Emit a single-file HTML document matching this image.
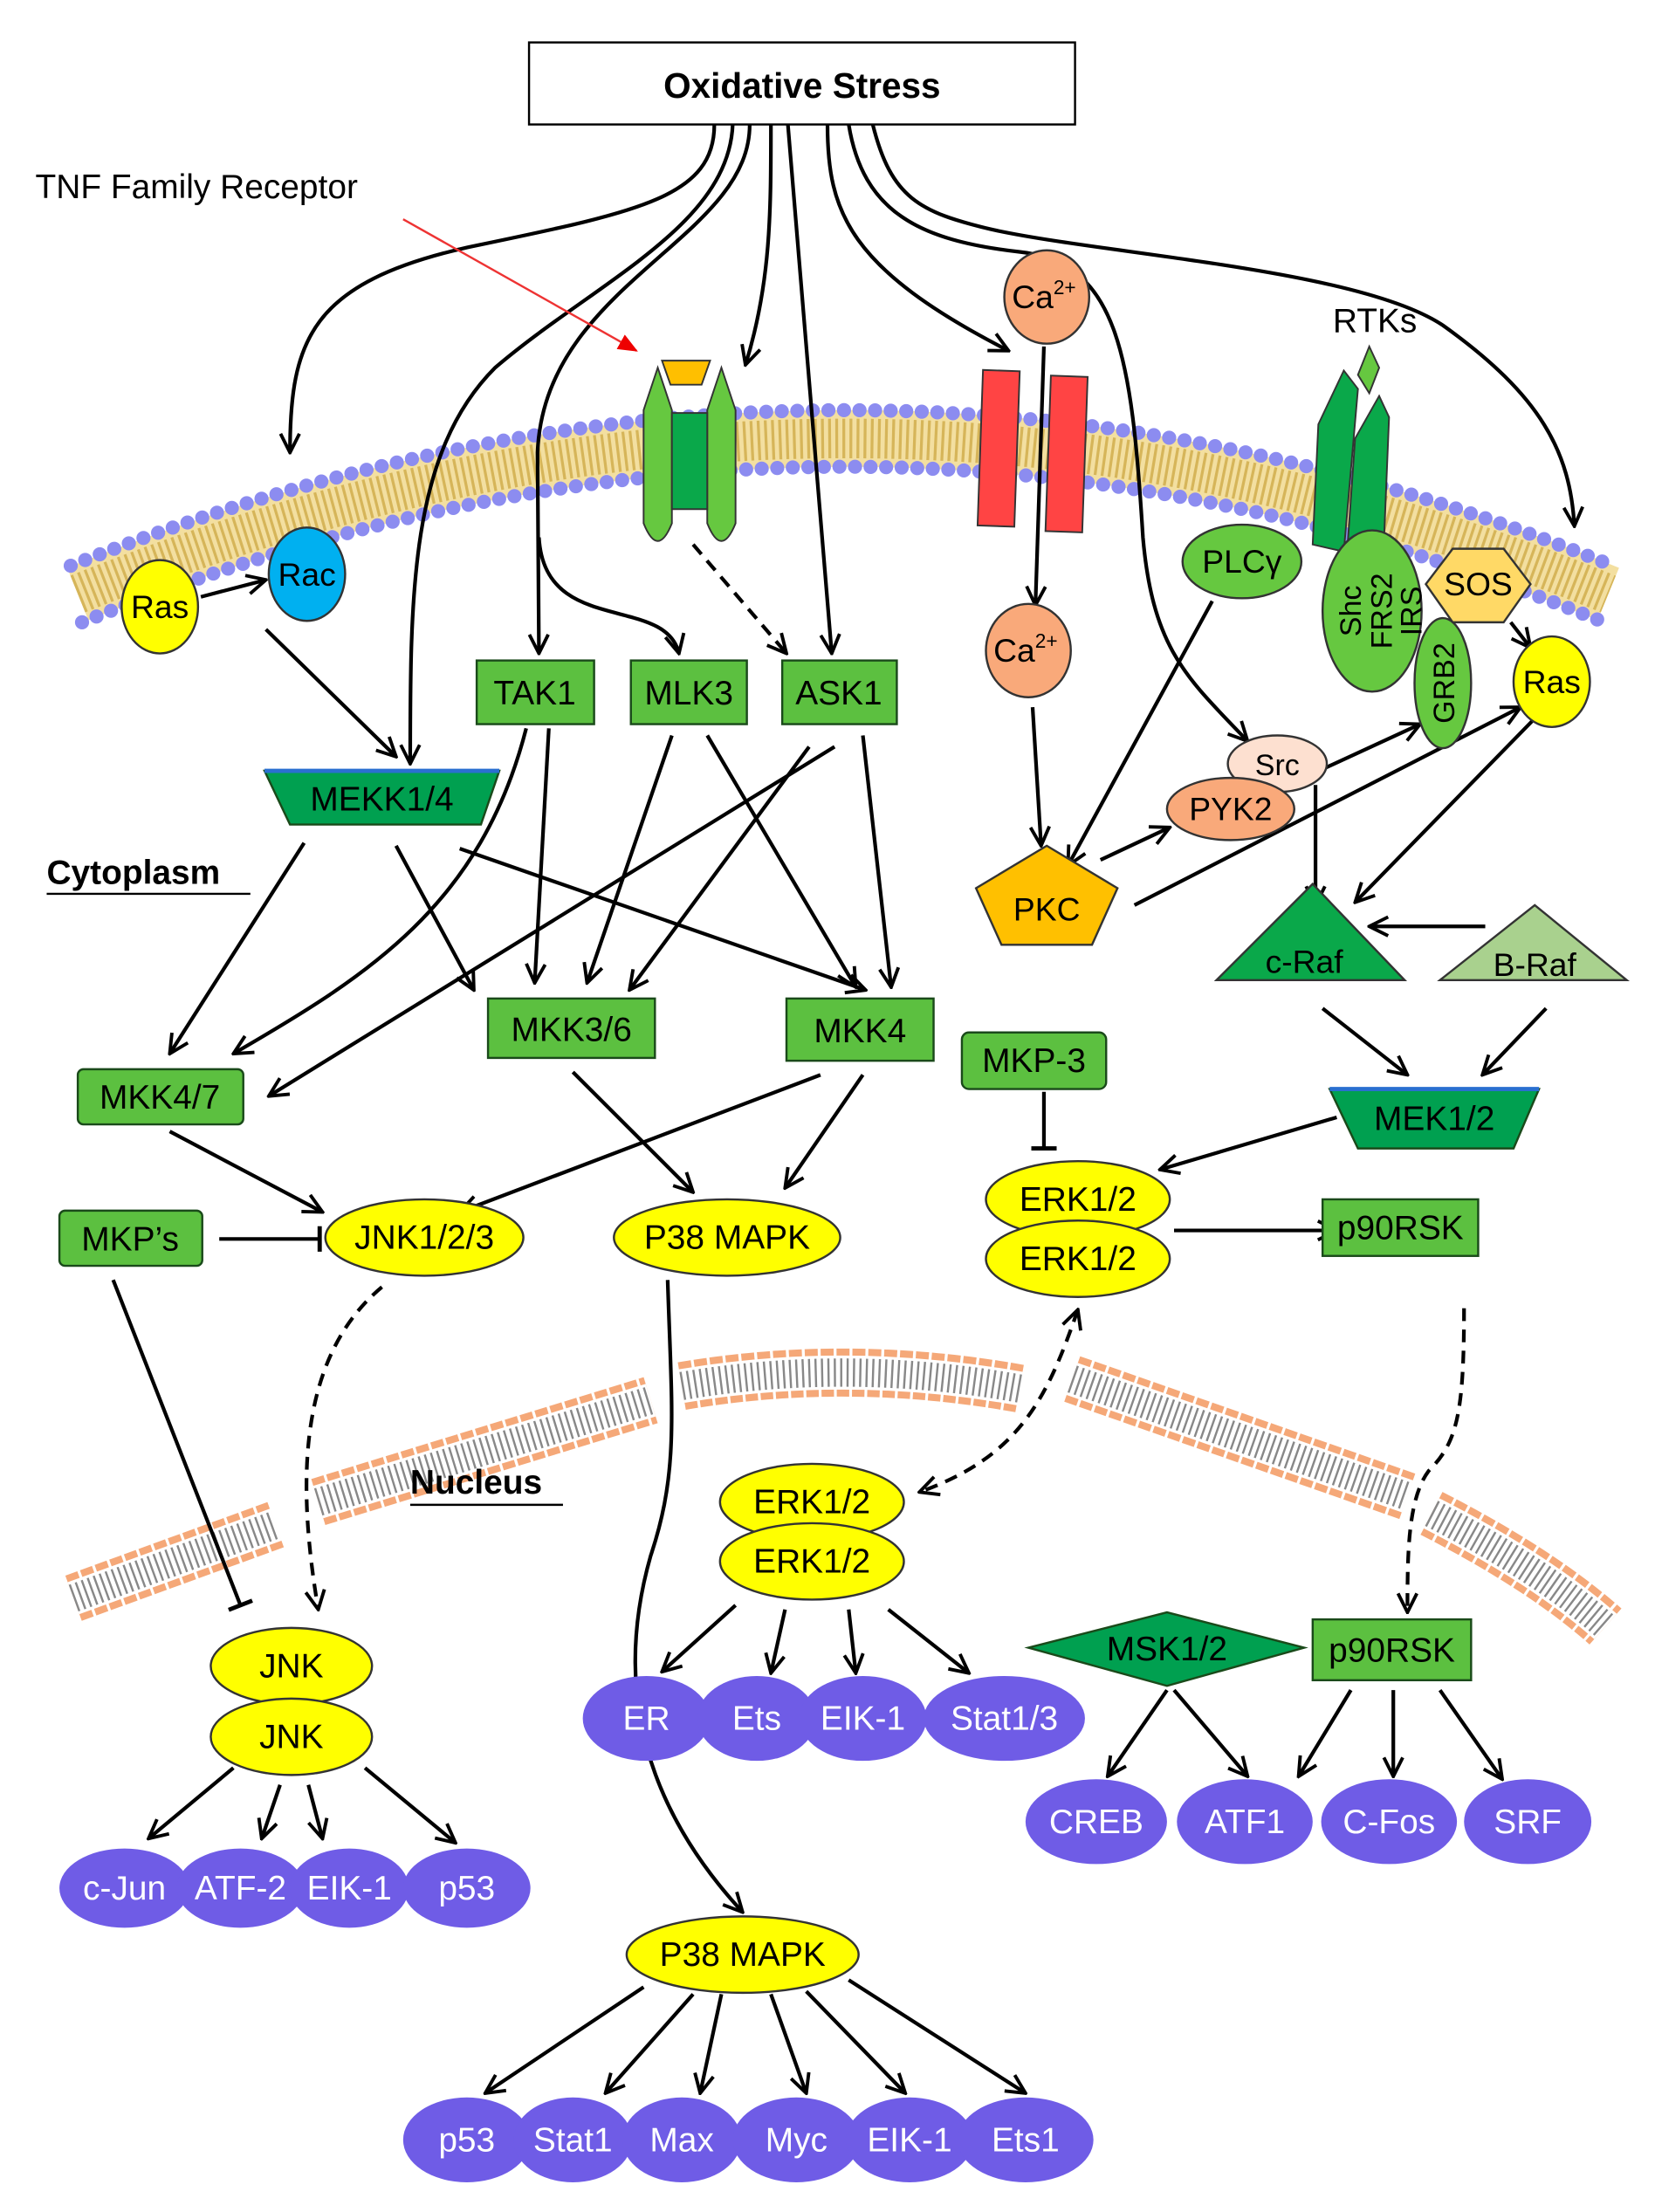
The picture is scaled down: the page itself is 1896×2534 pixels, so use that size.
<!DOCTYPE html>
<html><head><meta charset="utf-8"><style>
html,body{margin:0;padding:0;background:#fff}
svg{display:block}
text{font-family:"Liberation Sans",sans-serif;}
</style></head><body>
<svg width="1896" height="2534" viewBox="0 0 1170 1564" preserveAspectRatio="none" xmlns="http://www.w3.org/2000/svg">
<defs>
<marker id="a" viewBox="0 0 12 12" refX="11" refY="6" markerWidth="16" markerHeight="16" markerUnits="userSpaceOnUse" orient="auto-start-reverse">
<path d="M1,1 L11,6 L1,11" fill="none" stroke="#000" stroke-width="1.8"/></marker>
<marker id="r" viewBox="0 0 12 12" refX="11" refY="6" markerWidth="14" markerHeight="14" markerUnits="userSpaceOnUse" orient="auto">
<path d="M0,1 L12,6 L0,11z" fill="#e00"/></marker>
<marker id="t" viewBox="0 0 12 12" refX="6" refY="6" markerWidth="18" markerHeight="18" markerUnits="userSpaceOnUse" orient="auto">
<path d="M6,0 L6,12" stroke="#000" stroke-width="2"/></marker>
</defs>

<path d="M55,420 Q600,200 1137,420" fill="none" stroke="#f3dfa0" stroke-width="40"/>
<path d="M55,420 Q600,200 1137,420" fill="none" stroke="#c9a33a" stroke-width="28" stroke-dasharray="2 3" opacity="0.7"/>
<path d="M50,400 Q600,180 1140,400" fill="none" stroke="#8c8cf0" stroke-width="10" stroke-dasharray="0 11" stroke-linecap="round"/>
<path d="M58,440 Q600,220 1134,440" fill="none" stroke="#8c8cf0" stroke-width="10" stroke-dasharray="0 11" stroke-linecap="round"/>

<g fill="none" stroke-linecap="butt">
<g stroke="#f5a878" stroke-width="34" stroke-dasharray="9 2">
<path d="M52,1130 L195,1078"/><path d="M225,1062 L460,990"/><path d="M482,980 Q600,960 722,982"/><path d="M758,975 L995,1058"/><path d="M1012,1070 Q1090,1110 1135,1150"/>
</g>
<g stroke="#fff" stroke-width="24">
<path d="M52,1130 L195,1078"/><path d="M225,1062 L460,990"/><path d="M482,980 Q600,960 722,982"/><path d="M758,975 L995,1058"/><path d="M1012,1070 Q1090,1110 1135,1150"/>
</g>
<g stroke="#888" stroke-width="20" stroke-dasharray="1.5 3">
<path d="M52,1130 L195,1078"/><path d="M225,1062 L460,990"/><path d="M482,980 Q600,960 722,982"/><path d="M758,975 L995,1058"/><path d="M1012,1070 Q1090,1110 1135,1150"/>
</g>
</g>

<g fill="none" stroke="#000" stroke-width="2.6">
<path d="M505,88 C505,140 450,150 330,175 C220,200 205,240 205,320" marker-end="url(#a)"/>
<path d="M518,88 C515,160 420,200 350,260 C290,320 290,420 290,540" marker-end="url(#a)"/>
<path d="M530,88 C530,170 385,200 380,320 L381,462" marker-end="url(#a)"/>
<path d="M381,380 C385,450 470,420 480,462" marker-end="url(#a)"/>
<path d="M545,88 C545,150 545,200 527,258" marker-end="url(#a)"/>
<path d="M557,88 L588,462" marker-end="url(#a)"/>
<path d="M585,88 C585,150 600,190 713,248" marker-end="url(#a)"/>
<path d="M600,88 C610,150 650,170 720,178 C790,185 800,250 808,380 C815,460 840,480 882,524" marker-end="url(#a)"/>
<path d="M617,88 C630,140 650,150 700,162 C780,180 960,190 1020,230 C1090,280 1110,320 1113,372" marker-end="url(#a)"/>
<path d="M142,422 L188,410" marker-end="url(#a)"/>
<path d="M188,445 L280,535" marker-end="url(#a)"/>
<path d="M490,385 L556,462" stroke-dasharray="9 6" marker-end="url(#a)"/>
<path d="M738,245 L732,428" marker-end="url(#a)"/>
<path d="M730,500 L736,598" marker-end="url(#a)"/>
<path d="M857,425 L755,612" marker-end="url(#a)"/>
<path d="M778,608 L827,585" marker-end="url(#a)"/>
<path d="M802,640 L1075,500" marker-end="url(#a)"/>
<path d="M900,560 L1004,512" marker-end="url(#a)"/>
<path d="M930,555 L930,640" marker-end="url(#a)"/>
<path d="M1083,510 L958,638" marker-end="url(#a)"/>
<path d="M1068,440 L1082,458" marker-end="url(#a)"/>
<path d="M1050,655 L968,655" marker-end="url(#a)"/>
<path d="M935,713 L995,760" marker-end="url(#a)"/>
<path d="M1093,713 L1048,760" marker-end="url(#a)"/>
<path d="M945,790 L820,827" marker-end="url(#a)"/>
<path d="M738,772 L738,812" marker-end="url(#t)"/>
<path d="M830,870 L945,870" marker-end="url(#a)"/>
<path d="M1035,925 C1035,1000 1030,1020 1010,1040 C995,1060 995,1100 995,1140" stroke-dasharray="9 6" marker-end="url(#a)"/>
<path d="M762,926 C740,990 720,1030 650,1055" stroke-dasharray="9 6" marker-start="url(#a)" marker-end="url(#a)"/>
<path d="M270,910 C210,960 210,1050 225,1138" stroke-dasharray="9 6" marker-end="url(#a)"/>
<path d="M155,876 L226,876" marker-end="url(#t)"/>
<path d="M80,905 L170,1135" marker-end="url(#t)"/>
<path d="M472,905 C475,1000 480,1040 460,1100 C440,1170 440,1260 525,1352" marker-end="url(#a)"/>
<path d="M215,596 L120,745" marker-end="url(#a)"/>
<path d="M280,598 L335,700" marker-end="url(#a)"/>
<path d="M325,600 L612,700" marker-end="url(#a)"/>
<path d="M372,515 C340,640 260,690 165,745" marker-end="url(#a)"/>
<path d="M388,515 L378,695" marker-end="url(#a)"/>
<path d="M475,520 L415,695" marker-end="url(#a)"/>
<path d="M500,520 L605,698" marker-end="url(#a)"/>
<path d="M572,528 L445,700" marker-end="url(#a)"/>
<path d="M590,528 L190,775" marker-end="url(#a)"/>
<path d="M610,520 L630,698" marker-end="url(#a)"/>
<path d="M120,800 L228,857" marker-end="url(#a)"/>
<path d="M405,758 L490,843" marker-end="url(#a)"/>
<path d="M580,760 L325,857" marker-end="url(#a)"/>
<path d="M610,760 L555,840" marker-end="url(#a)"/>
<path d="M520,1135 L468,1182" marker-end="url(#a)"/>
<path d="M555,1138 L545,1183" marker-end="url(#a)"/>
<path d="M600,1138 L605,1183" marker-end="url(#a)"/>
<path d="M628,1138 L685,1183" marker-end="url(#a)"/>
<path d="M165,1250 L105,1300" marker-end="url(#a)"/>
<path d="M198,1262 L185,1300" marker-end="url(#a)"/>
<path d="M218,1262 L228,1300" marker-end="url(#a)"/>
<path d="M258,1250 L322,1303" marker-end="url(#a)"/>
<path d="M825,1195 L783,1256" marker-end="url(#a)"/>
<path d="M830,1195 L882,1256" marker-end="url(#a)"/>
<path d="M955,1195 L918,1256" marker-end="url(#a)"/>
<path d="M985,1195 L985,1256" marker-end="url(#a)"/>
<path d="M1018,1195 L1062,1258" marker-end="url(#a)"/>
<path d="M455,1405 L343,1480" marker-end="url(#a)"/>
<path d="M490,1410 L428,1480" marker-end="url(#a)"/>
<path d="M510,1410 L495,1480" marker-end="url(#a)"/>
<path d="M545,1410 L570,1480" marker-end="url(#a)"/>
<path d="M570,1408 L640,1480" marker-end="url(#a)"/>
<path d="M600,1400 L725,1480" marker-end="url(#a)"/>
</g>
<path d="M285,155 L450,248" stroke="#e33" stroke-width="1.5" fill="none" marker-end="url(#r)"/>

<rect x="374" y="30" width="386" height="58" fill="#fff" stroke="#000" stroke-width="1.5"/>
<text x="567" y="69" font-size="25" font-weight="bold" text-anchor="middle">Oxidative Stress</text>
<text x="25" y="140" font-size="24">TNF Family Receptor</text>
<text x="972" y="235" font-size="24" text-anchor="middle">RTKs</text>

<g stroke="#333" stroke-width="1.2">
<path d="M455,290 L465,260 L475,290 L475,370 Q465,395 455,370z" fill="#66c840"/>
<path d="M500,290 L510,260 L520,290 L520,370 Q510,395 500,370z" fill="#66c840"/>
<rect x="475" y="292" width="25" height="68" fill="#0aa84a"/>
<path d="M468,255 L502,255 L496,272 L474,272z" fill="#ffbf00"/>
<rect x="693" y="262" width="26" height="110" fill="#f44" transform="rotate(2 706 317)"/>
<rect x="741" y="266" width="26" height="110" fill="#f44" transform="rotate(2 754 321)"/>
<path d="M928,385 L932,300 L950,262 L960,275 L950,390z" fill="#0aa84a"/>
<path d="M952,395 L958,310 L975,280 L982,295 L978,392z" fill="#0aa84a"/>
<path d="M960,265 L968,245 L975,260 L968,278z" fill="#66c840"/>
</g>

<g stroke="#333" stroke-width="1.5">
<ellipse cx="740" cy="210" rx="30" ry="33" fill="#f9a97a"/>
<ellipse cx="727" cy="460" rx="30" ry="33" fill="#f9a97a"/>
<ellipse cx="113" cy="429" rx="27" ry="33" fill="#ffff00"/>
<ellipse cx="217" cy="406" rx="27" ry="33" fill="#00b0f0"/>
<ellipse cx="878" cy="397" rx="42" ry="26" fill="#66c840"/>
<ellipse cx="970" cy="432" rx="35" ry="57" fill="#66c840"/>
<ellipse cx="1020" cy="483" rx="20" ry="46" fill="#66c840"/>
<path d="M1027,388 L1063,388 L1082,413 L1063,440 L1027,440 L1008,413z" fill="#ffd966"/>
<ellipse cx="1097" cy="482" rx="27" ry="32" fill="#ffff00"/>
<ellipse cx="903" cy="540" rx="35" ry="20" fill="#fde0d0"/>
<ellipse cx="870" cy="572" rx="45" ry="22" fill="#f9a97a"/>
<path d="M740,598 L790,628 L772,668 L708,668 L690,628z" fill="#ffc000"/>
<path d="M860,693 L993,693 L928,625z" fill="#0aa84a"/>
<path d="M1018,693 L1150,693 L1085,640z" fill="#a9d18e"/>
</g>
<g font-size="23" text-anchor="middle">
<text x="738" y="218">Ca<tspan font-size="14" dy="-10">2+</tspan></text>
<text x="725" y="468">Ca<tspan font-size="14" dy="-10">2+</tspan></text>
<text x="113" y="437">Ras</text>
<text x="217" y="414">Rac</text>
<text x="878" y="405">PLCγ</text>
<text x="1045" y="421">SOS</text>
<text x="1097" y="490">Ras</text>
<text x="903" y="548" font-size="21">Src</text>
<text x="870" y="580">PYK2</text>
<text x="740" y="651">PKC</text>
<text x="922" y="688">c-Raf</text>
<text x="1085" y="690">B-Raf</text>
<g font-size="21">
<text transform="translate(962,432) rotate(-90)">Shc</text>
<text transform="translate(984,432) rotate(-90)">FRS2</text>
<text transform="translate(1005,432) rotate(-90)">IRS</text>
<text transform="translate(1028,483) rotate(-90)">GRB2</text>
</g>
</g>

<g fill="#5cc040" stroke="#1a4a1a" stroke-width="1.5">
<rect x="337" y="467" width="83" height="45"/>
<rect x="446" y="467" width="82" height="45"/>
<rect x="553" y="467" width="81" height="45"/>
<rect x="345" y="706" width="118" height="42"/>
<rect x="556" y="706" width="104" height="44"/>
<rect x="55" y="756" width="117" height="39" rx="4"/>
<rect x="680" y="730" width="102" height="40" rx="5"/>
<rect x="42" y="856" width="101" height="39" rx="4"/>
<rect x="935" y="848" width="110" height="40"/>
<rect x="928" y="1145" width="112" height="43"/>
<path d="M187,545 L353,545 L340,583 L205,583z" fill="#00a050"/>
<path d="M940,770 L1088,770 L1070,812 L960,812z" fill="#00a050"/>
<path d="M727,1165 L825,1140 L922,1165 L825,1192z" fill="#00a050"/>
</g>
<path d="M187,545 L353,545" stroke="#2a6fd0" stroke-width="3"/>
<path d="M940,770 L1088,770" stroke="#2a6fd0" stroke-width="3"/>
<g font-size="24" text-anchor="middle">
<text x="378" y="498">TAK1</text>
<text x="487" y="498">MLK3</text>
<text x="593" y="498">ASK1</text>
<text x="404" y="736">MKK3/6</text>
<text x="608" y="737">MKK4</text>
<text x="113" y="784">MKK4/7</text>
<text x="731" y="758">MKP-3</text>
<text x="92" y="884">MKP’s</text>
<text x="990" y="876">p90RSK</text>
<text x="984" y="1175">p90RSK</text>
<text x="270" y="573">MEKK1/4</text>
<text x="1014" y="799">MEK1/2</text>
<text x="825" y="1174">MSK1/2</text>
</g>

<g fill="#ffff00" stroke="#333" stroke-width="1.5">
<ellipse cx="300" cy="875" rx="70" ry="27"/>
<ellipse cx="514" cy="875" rx="80" ry="27"/>
<ellipse cx="762" cy="848" rx="65" ry="27"/>
<ellipse cx="762" cy="890" rx="65" ry="27"/>
<ellipse cx="574" cy="1062" rx="65" ry="27"/>
<ellipse cx="574" cy="1104" rx="65" ry="27"/>
<ellipse cx="206" cy="1178" rx="57" ry="27"/>
<ellipse cx="206" cy="1228" rx="57" ry="27"/>
<ellipse cx="525" cy="1382" rx="82" ry="27"/>
</g>
<g font-size="24" text-anchor="middle">
<text x="300" y="883">JNK1/2/3</text>
<text x="514" y="883">P38 MAPK</text>
<text x="762" y="856">ERK1/2</text>
<text x="762" y="898">ERK1/2</text>
<text x="574" y="1070">ERK1/2</text>
<text x="574" y="1112">ERK1/2</text>
<text x="206" y="1186">JNK</text>
<text x="206" y="1236">JNK</text>
<text x="525" y="1390">P38 MAPK</text>
</g>

<g fill="#6f5ce6">
<ellipse cx="457" cy="1215" rx="45" ry="30"/><ellipse cx="535" cy="1215" rx="42" ry="30"/><ellipse cx="610" cy="1215" rx="45" ry="30"/><ellipse cx="710" cy="1215" rx="57" ry="30"/>
<ellipse cx="88" cy="1335" rx="46" ry="28"/><ellipse cx="170" cy="1335" rx="45" ry="28"/><ellipse cx="247" cy="1335" rx="42" ry="28"/><ellipse cx="330" cy="1335" rx="45" ry="28"/>
<ellipse cx="775" cy="1288" rx="50" ry="30"/><ellipse cx="880" cy="1288" rx="48" ry="30"/><ellipse cx="982" cy="1288" rx="48" ry="30"/><ellipse cx="1080" cy="1288" rx="45" ry="30"/>
<ellipse cx="330" cy="1513" rx="45" ry="30"/><ellipse cx="405" cy="1513" rx="42" ry="30"/><ellipse cx="482" cy="1513" rx="42" ry="30"/><ellipse cx="563" cy="1513" rx="45" ry="30"/><ellipse cx="643" cy="1513" rx="45" ry="30"/><ellipse cx="725" cy="1513" rx="48" ry="30"/>
</g>
<g font-size="24" fill="#fff" text-anchor="middle">
<text x="457" y="1223">ER</text><text x="535" y="1223">Ets</text><text x="610" y="1223">EIK-1</text><text x="710" y="1223">Stat1/3</text>
<text x="88" y="1343">c-Jun</text><text x="170" y="1343">ATF-2</text><text x="247" y="1343">EIK-1</text><text x="330" y="1343">p53</text>
<text x="775" y="1296">CREB</text><text x="880" y="1296">ATF1</text><text x="982" y="1296">C-Fos</text><text x="1080" y="1296">SRF</text>
<text x="330" y="1521">p53</text><text x="405" y="1521">Stat1</text><text x="482" y="1521">Max</text><text x="563" y="1521">Myc</text><text x="643" y="1521">EIK-1</text><text x="725" y="1521">Ets1</text>
</g>

<text x="33" y="625" font-size="24" font-weight="bold">Cytoplasm</text>
<path d="M33,632 L177,632" stroke="#000" stroke-width="1.5"/>
<text x="290" y="1056" font-size="24" font-weight="bold">Nucleus</text>
<path d="M290,1064 L398,1064" stroke="#000" stroke-width="1.5"/>
</svg>
</body></html>
